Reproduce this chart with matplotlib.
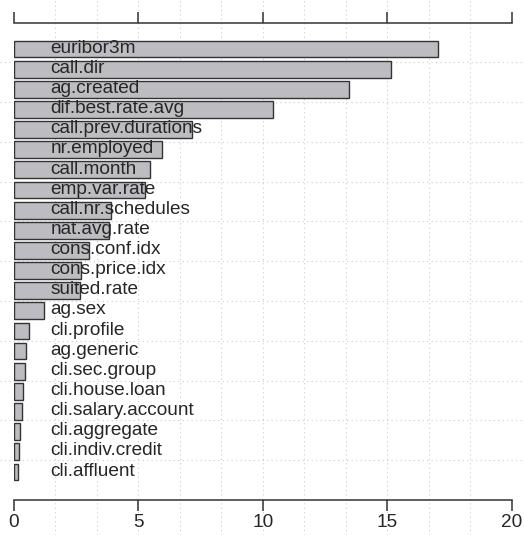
import numpy as np
import matplotlib
matplotlib.use("Agg")
import matplotlib.pyplot as plt

plt.rcParams["font.family"] = ["Liberation Sans", "DejaVu Sans"]

# importancia relativa de cada variable (de mayor a menor)
variables = [
    "euribor3m", "call.dir", "ag.created", "dif.best.rate.avg",
    "call.prev.durations", "nr.employed", "call.month", "emp.var.rate",
    "call.nr.schedules", "nat.avg.rate", "cons.conf.idx", "cons.price.idx",
    "suited.rate", "ag.sex", "cli.profile", "ag.generic", "cli.sec.group",
    "cli.house.loan", "cli.salary.account", "cli.aggregate",
    "cli.indiv.credit", "cli.affluent",
]
importancia = [
    17.02, 15.13, 13.46, 10.42, 7.17, 5.94, 5.48, 5.27, 3.90, 3.84, 3.02,
    2.71, 2.68, 1.24, 0.64, 0.51, 0.47, 0.39, 0.34, 0.27, 0.22, 0.17,
]
ticks_x = [0, 5, 10, 15, 20]

W, H = 524, 535
fig = plt.figure(figsize=(W / 100, H / 100), dpi=100)
ax = fig.add_axes([13.5 / W, 35 / H, 498.5 / W, 477.5 / H])

# posiciones al estilo barplot de R: ancho 1, espacio 0.2
pos = 0.7 + 1.2 * np.arange(len(variables))
y_sup = pos[0] - 1.58
y_inf = pos[-1] + 1.675

color_txt = "#262626"
color_borde = "#333333"
tam = 13.7

# rejilla punteada que cubre toda la figura
for gx in np.linspace(0, 20, 13)[1:-1]:
    ax.axvline(gx, ymin=-35 / 477.5, ymax=1 + 22.5 / 477.5, color="#cccccc",
               linestyle=(0, (1, 3)), linewidth=0.8, clip_on=False, zorder=0)
for gy in np.linspace(y_sup, y_inf, 13)[1:-1]:
    ax.axhline(gy, xmin=-13.5 / 498.5, xmax=1 + 12 / 498.5, color="#cccccc",
               linestyle=(0, (1, 3)), linewidth=0.8, clip_on=False, zorder=0)

ax.barh(pos, importancia, height=1.0, color="#bdbdc1",
        edgecolor=color_borde, linewidth=1.0, zorder=2)

for y, nombre in zip(pos, variables):
    ax.text(1.49, y + 0.22, nombre, fontsize=tam, color=color_txt,
            va="baseline", ha="left", zorder=3)

ax.set_xlim(0, 20)
ax.set_ylim(y_inf, y_sup)
ax.patch.set_visible(False)

for lado in ["left", "right"]:
    ax.spines[lado].set_visible(False)
for lado in ["top", "bottom"]:
    ax.spines[lado].set_color(color_borde)
    ax.spines[lado].set_linewidth(1.1)

ax.set_yticks([])
ax.set_xticks(ticks_x)
ax.set_xticklabels([str(t) for t in ticks_x])
ax.tick_params(axis="x", which="both", top=True, bottom=True,
               labeltop=False, labelbottom=True, direction="out",
               length=8, width=1.1, color=color_borde,
               labelsize=tam, labelcolor=color_txt, pad=2)

fig.savefig("out.png", dpi=100)
